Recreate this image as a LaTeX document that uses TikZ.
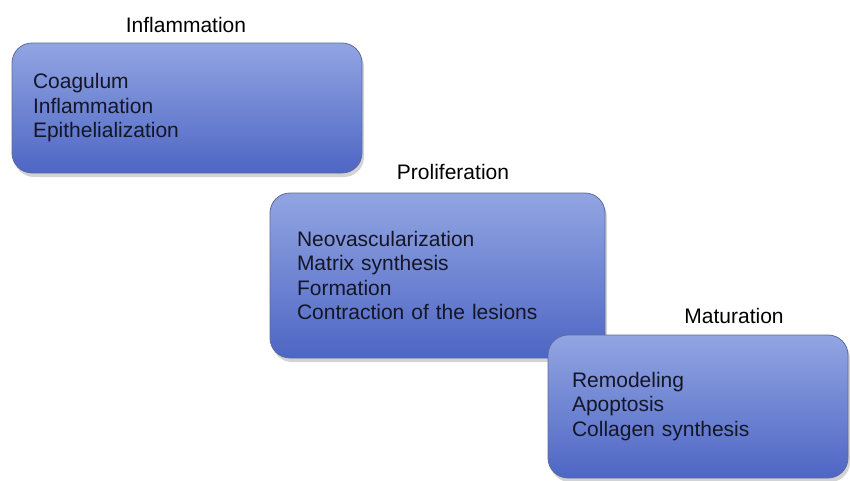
\documentclass[tikz,border=0pt]{standalone}
\usepackage{fontspec}
\setmainfont{Liberation Sans}
\usetikzlibrary{positioning, shadows}

\definecolor{phasetop}{RGB}{146,165,226}
\definecolor{phasebot}{RGB}{78,102,196}
\definecolor{phaseline}{RGB}{92,106,160}
\definecolor{phasetext}{RGB}{20,22,40}

\begin{document}
\begin{tikzpicture}[
x=1pt, y=-1pt,
phase/.style={rectangle, draw=phaseline, line width=0.8pt, rounded corners=20pt,
  top color=phasetop, bottom color=phasebot, align=left,
  text=phasetext, font=\fontsize{21}{24.5}\selectfont,
  drop shadow={shadow xshift=2pt, shadow yshift=-4pt, opacity=0.35, fill=gray}},
title/.style={font=\fontsize{21}{24.5}\selectfont, text=black}
]
\useasboundingbox (0,0) rectangle (850,480);

% phase boxes
\node[phase, inner xsep=21pt, minimum width=350pt, minimum height=130pt, text width=308pt]
  (box_infl) at (187,108) {Coagulum\\Inflammation\\Epithelialization};
\node[phase, inner xsep=27pt, minimum width=335pt, minimum height=165pt, text width=281pt]
  (box_prol) at (437.5,275.5) {Neovascularization\\Matrix synthesis\\Formation\\Contraction of the lesions};
\node[phase, inner xsep=24pt, minimum width=300pt, minimum height=143pt, text width=252pt]
  (box_mat) at (698,406.5) {Remodeling\\Apoptosis\\Collagen synthesis};

% phase titles
\node[title] (lab_infl) at (186,25) {Inflammation};
\node[title] (lab_prol) at (453,172) {Proliferation};
\node[title] (lab_mat) at (734,316) {Maturation};

\end{tikzpicture}
\end{document}
